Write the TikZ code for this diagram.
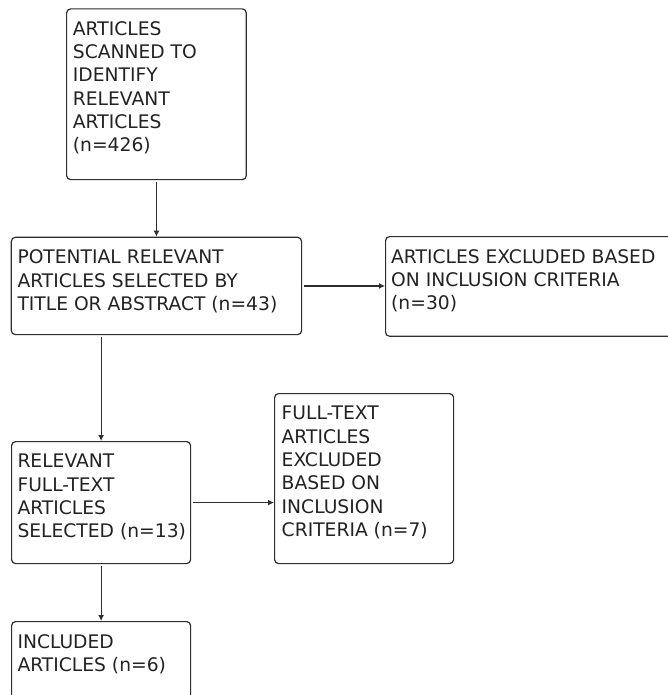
\documentclass[tikz,border=0pt]{standalone}
\usepackage{fontspec}
\setmainfont{DejaVu Sans}
\usetikzlibrary{arrows.meta}
\definecolor{edge}{HTML}{2E2E2E}
\definecolor{ink}{HTML}{222222}
\tikzset{
  box/.style={draw=edge, line width=1.2pt, rounded corners=4pt, anchor=north west, inner sep=0pt},
  txt/.style={anchor=north west, inner sep=0pt, align=left, text=ink, font={\fontsize{18.7}{23.3}\selectfont}},
  conn/.style={draw=edge, line width=1.2pt, -{Latex[length=6pt,width=6pt]}, shorten <=1.5pt}
}
\begin{document}
\begin{tikzpicture}[x=1pt,y=-1pt]
\useasboundingbox (0,0) rectangle (668,695);
\clip (0,0) rectangle (668,695);
\node[box, minimum width=179.7pt, minimum height=170.7pt] (b1) at (66,8.3) {};
\node[box, minimum width=290.3pt, minimum height=97.3pt] (b2) at (10.7,236.7) {};
\node[box, minimum width=315pt, minimum height=99.7pt] (b3) at (385,236) {};
\node[box, minimum width=179pt, minimum height=122pt] (b4) at (11,441) {};
\node[box, minimum width=179pt, minimum height=170pt] (b5) at (274,393) {};
\node[box, minimum width=179pt, minimum height=110pt] (b6) at (11,621) {};

\node[txt] (t1) at ([xshift=6.7pt,yshift=-13pt]b1.north west) {ARTICLES\\SCANNED TO\\IDENTIFY\\RELEVANT\\ARTICLES\\(n=426)};
\node[txt] (t2) at ([xshift=6.6pt,yshift=-13pt]b2.north west) {POTENTIAL RELEVANT\\ARTICLES SELECTED BY\\TITLE OR ABSTRACT (n=43)};
\node[txt] (t3) at ([xshift=6pt,yshift=-13pt]b3.north west) {ARTICLES EXCLUDED BASED\\ON INCLUSION CRITERIA\\(n=30)};
\node[txt] (t4) at ([xshift=6.3pt,yshift=-13pt]b4.north west) {RELEVANT\\FULL-TEXT\\ARTICLES\\SELECTED (n=13)};
\node[txt] (t5) at ([xshift=7.5pt,yshift=-13pt]b5.north west) {FULL-TEXT\\ARTICLES\\EXCLUDED\\BASED ON\\INCLUSION\\CRITERIA (n=7)};
\node[txt] (t6) at ([xshift=6.3pt,yshift=-13pt]b6.north west) {INCLUDED\\ARTICLES (n=6)};

\draw[conn] (b1.south) -- (b2.north);
\draw[conn] (b2.east) -- (b3.west |- b2.east);
\draw[conn] (b4.north |- b2.south) -- (b4.north);
\draw[conn] (b4.east) -- (b5.west |- b4.east);
\draw[conn] (b4.south) -- (b6.north);
\end{tikzpicture}
\end{document}
